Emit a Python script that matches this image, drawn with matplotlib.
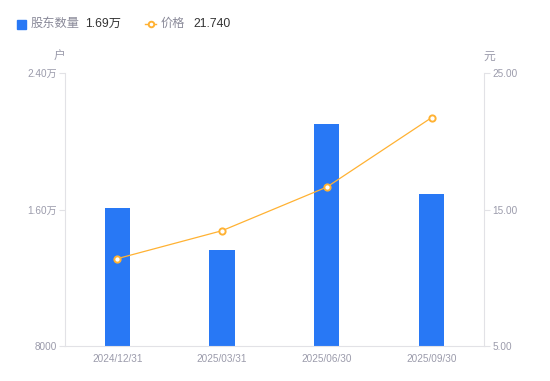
import matplotlib
matplotlib.use("Agg")
import matplotlib.pyplot as plt
from matplotlib.lines import Line2D
from matplotlib.patches import Rectangle

plt.rcParams['font.family'] = ['Liberation Sans', 'Noto Sans CJK SC', 'DejaVu Sans']

categories = ["2024/12/31", "2025/03/31", "2025/06/30", "2025/09/30"]
holders = [16100, 13650, 21000, 16900]
prices = [11.40, 13.45, 16.65, 21.74]
left_ticks = [8000, 16000, 24000]
left_labels = ["8000", "1.60万", "2.40万"]
right_ticks = [5, 15, 25]
right_labels = ["5.00", "15.00", "25.00"]
legend_bar_name = "股东数量"
legend_bar_value = "1.69万"
legend_line_name = "价格"
legend_line_value = "21.740"

BLUE = "#2878f5"
ORANGE = "#ffb233"
TICK = "#9b9bab"
AXIS = "#e2e2e6"

fig = plt.figure(figsize=(5.5, 3.81), dpi=100)
ax = fig.add_axes([0.118, 0.092, 0.762, 0.716])
x = list(range(len(categories)))
ax.bar(x, holders, width=0.24, color=BLUE, zorder=2)
ax.set_xlim(-0.5, len(categories) - 0.5)
ax.set_ylim(left_ticks[0], left_ticks[-1])
ax.set_yticks(left_ticks)
ax.set_yticklabels(left_labels)
ax.set_xticks(x)
ax.set_xticklabels(categories)
ax.tick_params(axis='x', length=0, colors=TICK, labelsize=7.2, pad=6)
ax.tick_params(axis='y', length=4, color=AXIS, colors=TICK, labelsize=7.2, pad=2)
for s in ['top', 'right']:
    ax.spines[s].set_visible(False)
ax.spines['left'].set_color(AXIS)
ax.spines['bottom'].set_color(AXIS)

ax2 = ax.twinx()
ax2.plot(x, prices, color=ORANGE, lw=0.9, marker='o', markersize=4.5,
         markerfacecolor='white', markeredgecolor=ORANGE, markeredgewidth=1.4, zorder=3)
ax2.set_ylim(right_ticks[0], right_ticks[-1])
ax2.set_yticks(right_ticks)
ax2.set_yticklabels(right_labels)
ax2.tick_params(axis='y', length=4, color=AXIS, colors=TICK, labelsize=7.2, pad=2)
for s in ['top', 'left', 'bottom']:
    ax2.spines[s].set_visible(False)
ax2.spines['right'].set_color(AXIS)

fig.text(59 / 550, 1 - 57 / 381, "户", color=TICK, fontsize=8.5, ha='center', va='center')
fig.text(489 / 550, 1 - 57 / 381, "元", color=TICK, fontsize=8.5, ha='center', va='center')

# legend
fig.patches.append(Rectangle((17 / 550, 1 - 29 / 381), 9 / 550, 9 / 381,
                             transform=fig.transFigure, color=BLUE))
fig.text(31 / 550, 1 - 24 / 381, legend_bar_name, color="#8a8a99", fontsize=8.8, va='center')
fig.text(85 / 550, 1 - 24 / 381, legend_bar_value, color="#333333", fontsize=8.8, va='center')
fig.lines.append(Line2D([145 / 550, 156 / 550], [1 - 24 / 381, 1 - 24 / 381],
                        transform=fig.transFigure, color=ORANGE, lw=1))
fig.lines.append(Line2D([150.5 / 550], [1 - 24 / 381], transform=fig.transFigure,
                        marker='o', markersize=4, markerfacecolor='white',
                        markeredgecolor=ORANGE, markeredgewidth=1.4))
fig.text(161 / 550, 1 - 24 / 381, legend_line_name, color="#8a8a99", fontsize=8.8, va='center')
fig.text(193 / 550, 1 - 24 / 381, legend_line_value, color="#333333", fontsize=8.8, va='center')

fig.savefig("out.png", dpi=100)
